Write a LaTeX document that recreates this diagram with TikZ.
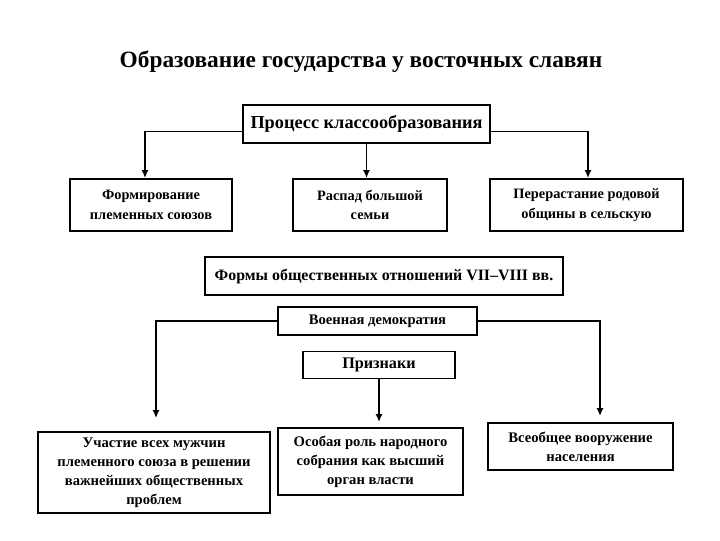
\documentclass[tikz,border=0pt]{standalone}
\usepackage{fontspec}
\setmainfont{Liberation Serif}
\usetikzlibrary{arrows.meta}
\tikzset{
  blk/.style={draw, line width=1.4pt, align=center, font=\bfseries\fontsize{10.4}{13.5}\selectfont, inner sep=2pt},
  arr/.style={-{Latex[length=2mm,width=1.8mm]}, line width=1.3pt}
}
\begin{document}
\begin{tikzpicture}[x=0.025cm, y=-0.025cm]
  \useasboundingbox (0,0) rectangle (720,540);
  \node[font=\bfseries\fontsize{16.6}{18}\selectfont] at (361,62) (title) {Образование государства у восточных славян};
  % process
  \node[blk, minimum width=247*0.025cm, minimum height=38*0.025cm, font=\bfseries\fontsize{13}{15}\selectfont] at (366.5,124) (proc) {Процесс классообразования};
  \node[blk, minimum width=162*0.025cm, minimum height=52*0.025cm, font=\bfseries\fontsize{10.2}{14}\selectfont] at (151,205) (form) {Формирование\\племенных союзов};
  \node[blk, minimum width=154*0.025cm, minimum height=52*0.025cm, font=\bfseries\fontsize{10.2}{14}\selectfont] at (370,205) (raspad) {Распад большой\\семьи};
  \node[blk, minimum width=193*0.025cm, minimum height=52*0.025cm, font=\bfseries\fontsize{10.2}{14}\selectfont] at (586.5,205) (pererast) {Перерастание родовой\\общины в сельскую};
  \draw[arr] ([yshift=-7.5*0.025cm]proc.west) -| ([xshift=-6*0.025cm]form.north);
  \draw[arr] ([yshift=-7.5*0.025cm]proc.east) -| ([xshift=1.5*0.025cm]pererast.north);
  \draw[arr] (proc.south) -- (proc.south |- raspad.north);
  % forms
  \node[blk, minimum width=358*0.025cm, minimum height=38*0.025cm, font=\bfseries\fontsize{11.3}{13}\selectfont] at (384,276) (formy) {Формы общественных отношений VII--VIII вв.};
  \node[blk, minimum width=199*0.025cm, minimum height=28*0.025cm] at (377.5,321) (voen) {Военная демократия};
  \node[blk, minimum width=152*0.025cm, minimum height=27*0.025cm, font=\bfseries\fontsize{11.5}{13}\selectfont] at (379,365) (priz) {Признаки};
  \node[blk, minimum width=232*0.025cm, minimum height=81*0.025cm] at (154,472.5) (uchast) {Участие всех мужчин\\племенного союза в решении\\важнейших общественных\\проблем};
  \node[blk, minimum width=185*0.025cm, minimum height=67*0.025cm] at (370.5,461.5) (osob) {Особая роль народного\\собрания как высший\\орган власти};
  \node[blk, minimum width=185*0.025cm, minimum height=47*0.025cm] at (580.5,446.5) (vseob) {Всеобщее вооружение\\населения};
  \draw[arr, shorten >=13*0.025cm] (voen.west) -| ([xshift=2*0.025cm]uchast.north);
  \draw[arr, shorten >=6*0.025cm] (voen.east) -| ([xshift=19.5*0.025cm]vseob.north);
  \draw[arr, shorten >=5*0.025cm] (priz.south) -- (priz.south |- osob.north);
\end{tikzpicture}
\end{document}
